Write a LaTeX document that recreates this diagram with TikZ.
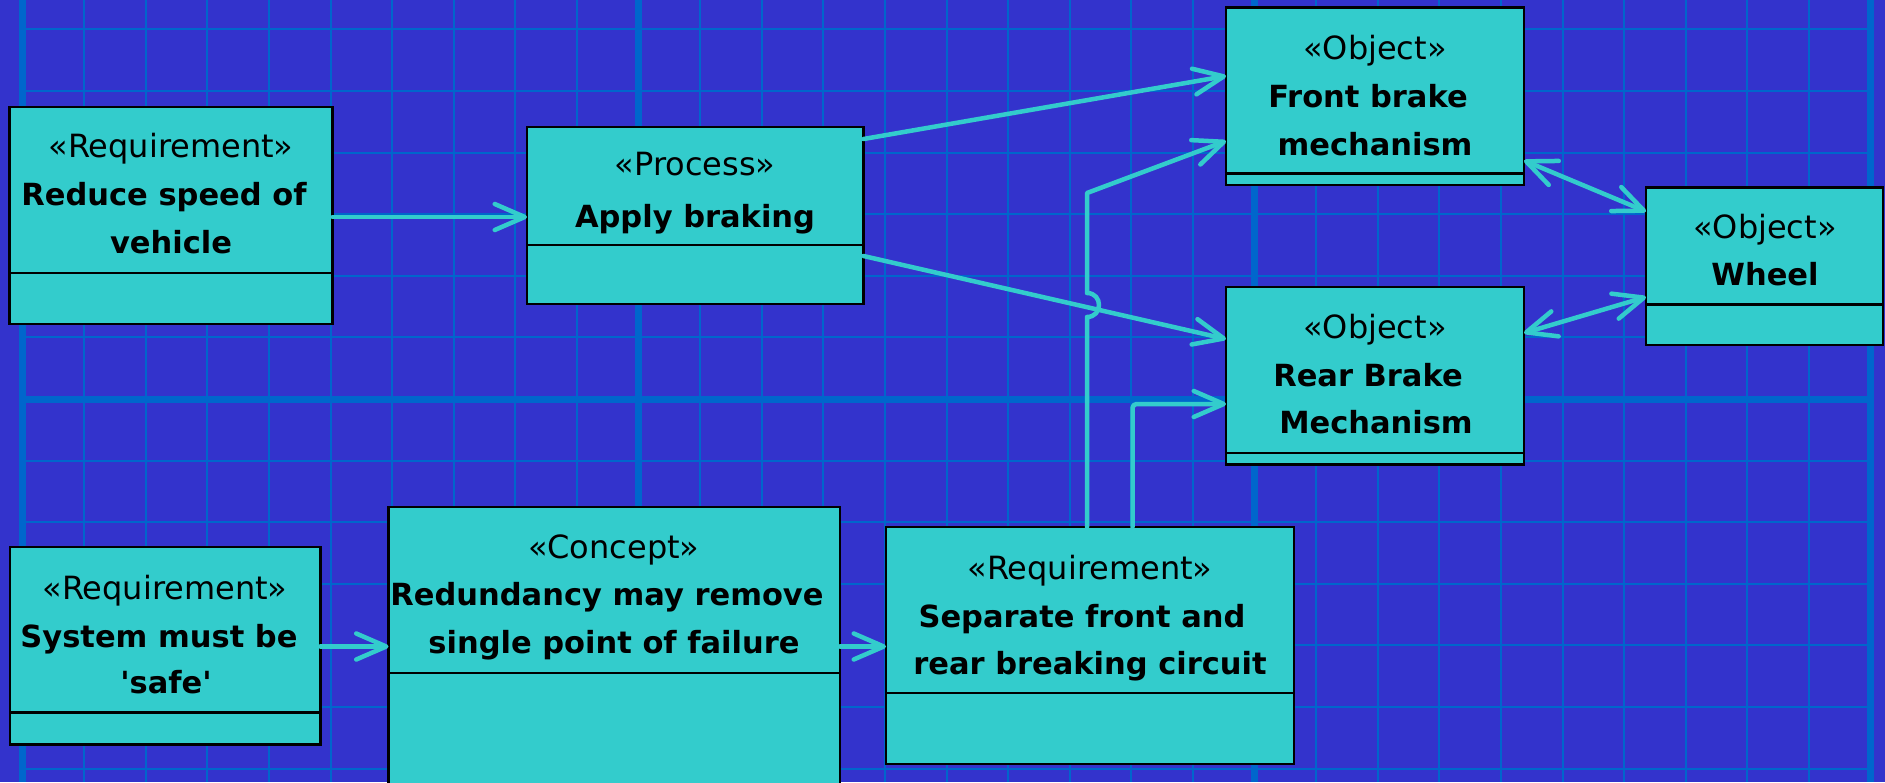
\documentclass[tikz,border=0pt]{standalone}
\usepackage{fontspec}
\setmainfont{DejaVu Sans}[Ligatures=TeXOff]
\usetikzlibrary{arrows.meta}
\definecolor{bgblue}{RGB}{51,51,204}
\definecolor{gridblue}{RGB}{0,102,204}
\definecolor{boxteal}{RGB}{51,204,204}
\tikzset{
  minorgrid/.style={draw=gridblue, line width=2pt},
  majorgrid/.style={draw=gridblue, line width=7pt},
  umlbox/.style={draw=black, fill=boxteal, line width=2.5pt, inner sep=0pt, outer sep=0pt, anchor=north west},
  divider/.style={draw=black, line width=2.2pt},
  stereo/.style={anchor=base, inner sep=0pt, font=\fontsize{32}{48}\selectfont},
  uname/.style={anchor=base, inner sep=0pt, font=\fontsize{30.5}{48}\selectfont\bfseries},
  conn/.style={draw=boxteal, line width=4.5pt, line cap=round, line join=round, -{Straight Barb[length=30pt,width=26pt,round]}},
  biconn/.style={draw=boxteal, line width=4.5pt, line cap=round, {Straight Barb[length=30pt,width=26pt,round]}-{Straight Barb[length=30pt,width=26pt,round]}},
}
\begin{document}
\begin{tikzpicture}[x=1pt,y=-1pt]
\useasboundingbox (0,0) rectangle (1885,782);
\clip (0,0) rectangle (1885,782);
\fill[bgblue] (0,0) rectangle (1885,782);
% grid
\foreach \k in {1,...,29} {\draw[minorgrid] ({22.5+61.6*\k},0) -- ({22.5+61.6*\k},782);}
\foreach \k in {-6,...,6} {\draw[minorgrid] (22.5,{399+61.6*\k}) -- (1870.5,{399+61.6*\k});}
\foreach \k in {0,1,2,3} {\draw[majorgrid] ({22.5+616*\k},0) -- ({22.5+616*\k},782);}
\draw[majorgrid] (22.5,399) -- (1870.5,399);

% boxes
\node[umlbox, minimum width=323pt, minimum height=217pt] (A) at (9.5,107) {};
\draw[divider] (A.west |- 0,273) -- (A.east |- 0,273);
\node[stereo] (A0) at (171,157) {«Requirement»};
\node[uname] (A1) at (164,205) {Reduce speed of};
\node[uname] (A2) at (171,253) {vehicle};

\node[umlbox, minimum width=336.5pt, minimum height=177pt] (B) at (527,127) {};
\draw[divider] (B.west |- 0,245) -- (B.east |- 0,245);
\node[stereo] (B0) at (695,175) {«Process»};
\node[uname] (B1) at (695,227) {Apply braking};

\node[umlbox, minimum width=298pt, minimum height=177.5pt] (C) at (1226,7.5) {};
\draw[divider] (C.west |- 0,173.5) -- (C.east |- 0,173.5);
\node[stereo] (C0) at (1375,59) {«Object»};
\node[uname] (C1) at (1368,107) {Front brake};
\node[uname] (C2) at (1375,155) {mechanism};

\node[umlbox, minimum width=298pt, minimum height=177.5pt] (D) at (1226,287) {};
\draw[divider] (D.west |- 0,453) -- (D.east |- 0,453);
\node[stereo] (D0) at (1375,338.5) {«Object»};
\node[uname] (D1) at (1368,386) {Rear Brake};
\node[uname] (D2) at (1376,433.5) {Mechanism};

\node[umlbox, minimum width=237pt, minimum height=157.5pt] (E) at (1646,187.5) {};
\draw[divider] (E.west |- 0,304.5) -- (E.east |- 0,304.5);
\node[stereo] (E0) at (1765,238.5) {«Object»};
\node[uname] (E1) at (1765,285) {Wheel};

\node[umlbox, minimum width=310.5pt, minimum height=197.5pt] (F) at (10,547) {};
\draw[divider] (F.west |- 0,712.5) -- (F.east |- 0,712.5);
\node[stereo] (F0) at (165,599) {«Requirement»};
\node[uname] (F1) at (159,647) {System must be};
\node[uname] (F2) at (166,693.5) {'safe'};

\node[umlbox, minimum width=451.5pt, minimum height=300pt] (G) at (388.5,507) {};
\draw[divider] (G.west |- 0,673) -- (G.east |- 0,673);
\node[stereo] (G0) at (614,558.5) {«Concept»};
\node[uname] (G1) at (607,605) {Redundancy may remove};
\node[uname] (G2) at (614,653.5) {single point of failure};

\node[umlbox, minimum width=408pt, minimum height=237pt] (H) at (886,527) {};
\draw[divider] (H.west |- 0,693) -- (H.east |- 0,693);
\node[stereo] (H0) at (1090,579.5) {«Requirement»};
\node[uname] (H1) at (1082,627) {Separate front and};
\node[uname] (H2) at (1090,674) {rear breaking circuit};

% connectors
\draw[conn] (A.east |- 0,217) -- (B.west |- 0,217);
\draw[conn] (B.east |- 0,139) -- (C.west |- 0,76);
\draw[conn] (B.east |- 0,256) -- (D.west |- 0,339);
\draw[conn] (H.north -| 1087,0) -- (1087,317) .. controls (1103,317) and (1103,293) .. (1087,293) -- (1087,193) -- (C.west |- 0,141);
\draw[conn, rounded corners=4pt] (H.north -| 1132.5,0) -- (1132.5,404) -- (D.west |- 0,404);
\draw[biconn] (C.east |- 0,160.5) -- (E.west |- 0,211.5);
\draw[biconn] (D.east |- 0,333) -- (E.west |- 0,297);
\draw[conn] (F.east |- 0,646.5) -- (G.west |- 0,646.5);
\draw[conn] (G.east |- 0,646.5) -- (H.west |- 0,646.5);
\end{tikzpicture}
\end{document}
